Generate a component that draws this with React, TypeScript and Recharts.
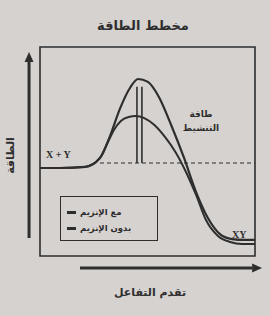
import { ComposedChart, Line, XAxis, YAxis, ReferenceArea, ReferenceLine, Legend } from 'recharts';

// reaction progress (0-100) and energy (0-100)
const withoutEnzymeProgress = [0, 9.3, 20.9, 27.9, 32.6, 37.2, 41.9, 45.6, 50.2, 55.3, 61, 67, 72.6, 78.1, 83.7, 89.3, 94.9, 100];
const withoutEnzymeEnergy = [42.1, 42.1, 42.6, 46.9, 57.5, 70.5, 80.5, 84.7, 83.3, 76.1, 62.7, 46.9, 30.6, 18.2, 10.5, 8.1, 7.7, 7.7];

const withEnzymeProgress = [0, 9.3, 20.9, 27.9, 31.6, 34.4, 37.6, 41.2, 44.6, 48.5, 53.2, 58.2, 63, 67.9, 72.6, 77.2, 82.8, 88.4, 94, 100];
const withEnzymeEnergy = [42.1, 42.1, 42.6, 46.9, 54.5, 60.3, 64.6, 66.5, 67, 66, 62.7, 56.9, 49.8, 40.2, 29.2, 17.2, 9.6, 6.7, 5.7, 5.7];

const seriesNames = ['مع الإنزيم', 'بدون الإنزيم'];
const reactantLevel = 44.5;
const activationArrowX = [45.1, 47.4];
const activationTop = 81;

const title = 'مخطط الطاقة';
const yLabel = 'الطاقة';
const xLabel = 'تقدم التفاعل';
const activationLabel = ['طاقة', 'التنشيط'];
const reactantLabel = 'X + Y';
const productLabel = 'XY';

const withoutEnzyme = withoutEnzymeProgress.map((x, i) => ({ x, e: withoutEnzymeEnergy[i] }));
const withEnzyme = withEnzymeProgress.map((x, i) => ({ x, e: withEnzymeEnergy[i] }));

const INK = '#2e2e2e';

const ArrowShape = (props: any) => {
  const { x1, y1, x2, y2 } = props;
  const dx = x2 - x1;
  const dy = y2 - y1;
  const len = Math.hypot(dx, dy) || 1;
  const ux = dx / len;
  const uy = dy / len;
  const head = 10;
  const half = 4.5;
  const bx = x2 - ux * head;
  const by = y2 - uy * head;
  return (
    <g>
      <line x1={x1} y1={y1} x2={bx} y2={by} stroke={INK} strokeWidth={3} />
      <polygon
        points={`${x2},${y2} ${bx - uy * half},${by + ux * half} ${bx + uy * half},${by - ux * half}`}
        fill={INK}
      />
    </g>
  );
};

const renderLegend = (props: any) => {
  const items = [...(props.payload || [])].sort(
    (a: any, b: any) => seriesNames.indexOf(a.value) - seriesNames.indexOf(b.value)
  );
  return (
    <div
      style={{
        width: 98,
        height: 45,
        boxSizing: 'border-box',
        border: `1.5px solid ${INK}`,
        padding: '7px 0 0 6px',
      }}
    >
      {items.map((entry: any) => (
        <div key={entry.value} style={{ display: 'flex', alignItems: 'center', height: 16 }}>
          <span style={{ width: 9, height: 3, background: INK, marginRight: 4 }} />
          <span style={{ fontSize: 8.5, fontWeight: 'bold', color: INK }}>{entry.value}</span>
        </div>
      ))}
    </div>
  );
};

const textStyle = {
  position: 'absolute' as const,
  fontWeight: 'bold' as const,
  color: INK,
  whiteSpace: 'nowrap' as const,
  lineHeight: 1,
};

export default function App() {
  return (
    <div
      style={{
        position: 'absolute',
        left: 0,
        top: 0,
        width: 270,
        height: 316,
        background: '#d6d2d0',
        fontFamily: '"DejaVu Sans", sans-serif',
        overflow: 'hidden',
      }}
    >
      <ComposedChart width={270} height={316} margin={{ top: 47, right: 15, bottom: 60, left: 40 }}>
        <XAxis type="number" dataKey="x" domain={[0, 100]} hide allowDataOverflow />
        <YAxis type="number" domain={[0, 100]} hide allowDataOverflow />
        <ReferenceArea x1={0} x2={100} y1={0} y2={100} fill="none" stroke={INK} strokeWidth={1.6} />
        <ReferenceLine
          segment={[{ x: 27.9, y: reactantLevel }, { x: 100, y: reactantLevel }]}
          stroke={INK}
          strokeWidth={1.2}
          strokeDasharray="4 3"
        />
        {activationArrowX.map((ax) => (
          <ReferenceLine
            key={ax}
            segment={[{ x: ax, y: reactantLevel }, { x: ax, y: activationTop }]}
            stroke={INK}
            strokeWidth={1.6}
          />
        ))}
        <ReferenceLine
          segment={[{ x: -5.1, y: 8.6 }, { x: -5.1, y: 97.6 }]}
          ifOverflow="visible"
          shape={ArrowShape}
        />
        <ReferenceLine
          segment={[{ x: 18.6, y: -5.7 }, { x: 103.3, y: -5.7 }]}
          ifOverflow="visible"
          shape={ArrowShape}
        />
        <Line
          data={withEnzyme}
          dataKey="e"
          name={seriesNames[0]}
          type="monotone"
          stroke={INK}
          strokeWidth={2}
          dot={false}
          isAnimationActive={false}
        />
        <Line
          data={withoutEnzyme}
          dataKey="e"
          name={seriesNames[1]}
          type="monotone"
          stroke={INK}
          strokeWidth={2.2}
          dot={false}
          isAnimationActive={false}
        />
        <Legend
          layout="vertical"
          align="center"
          verticalAlign="middle"
          wrapperStyle={{ left: 60, top: 196, width: 98, height: 45 }}
          content={renderLegend}
        />
      </ComposedChart>

      <div style={{ ...textStyle, left: 0, width: 286, top: 19, textAlign: 'center', fontSize: 13 }}>{title}</div>
      <div
        style={{
          ...textStyle,
          left: -12,
          top: 150,
          width: 44,
          textAlign: 'center',
          fontSize: 11,
          transform: 'rotate(-90deg)',
        }}
      >
        {yLabel}
      </div>
      <div style={{ ...textStyle, left: 100, width: 100, top: 287, textAlign: 'center', fontSize: 11 }}>{xLabel}</div>
      <div style={{ ...textStyle, left: 176, width: 50, top: 107, textAlign: 'center', fontSize: 9, lineHeight: '14px' }}>
        {activationLabel.map((t) => (
          <div key={t}>{t}</div>
        ))}
      </div>
      <div style={{ ...textStyle, left: 46, top: 150, fontSize: 10, fontFamily: '"Liberation Serif", serif' }}>{reactantLabel}</div>
      <div style={{ ...textStyle, left: 232, top: 230, fontSize: 10, fontFamily: '"Liberation Serif", serif' }}>{productLabel}</div>
    </div>
  );
}
